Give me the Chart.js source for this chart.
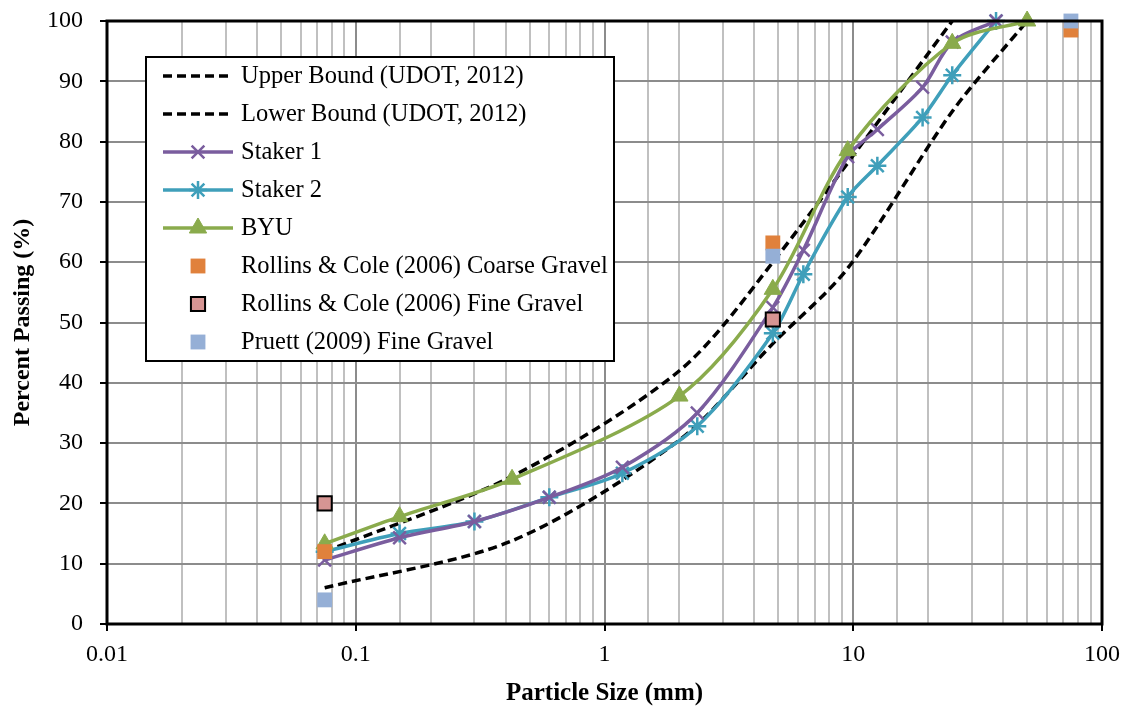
<!DOCTYPE html>
<html>
<head>
<meta charset="utf-8">
<script src="https://cdn.jsdelivr.net/npm/chart.js@4/dist/chart.umd.min.js"></script>
<style>
  html, body { margin: 0; padding: 0; background: #ffffff; }
</style>
</head>
<body>
<canvas id="gradChart" width="1125" height="709"></canvas>
<script>
// Sieve sizes (mm) and percent passing
const sieveStaker = [0.075, 0.15, 0.3, 0.6, 1.18, 2.36, 4.75, 6.3, 9.5, 12.5, 19, 25, 37.5];
const staker1 = [10.6, 14.3, 17, 21, 26, 35, 52.5, 62, 77.5, 82, 89, 96.5, 100];
const staker2 = [12, 15, 17, 21, 25, 32.8, 48.2, 58, 70.8, 76, 84, 91, 100];

const sieveByu = [0.075, 0.15, 0.425, 2, 4.75, 9.5, 25, 50];
const byu = [13.3, 17.8, 24, 37.8, 55.5, 78.5, 96.3, 100];

const sieveUpper = [0.075, 0.425, 2, 4.75, 25];
const upperBound = [12, 24.5, 42, 60, 100];
const sieveLower = [0.075, 0.425, 2, 4.75, 9.5, 25, 50];
const lowerBound = [6, 13.8, 30.5, 46.5, 59, 85, 100];

const sieveCoarse = [0.075, 4.75, 75];
const rollinsCoarse = [12, 63.2, 98.5];
const sieveFine = [0.075, 4.75];
const rollinsFine = [20, 50.5];
const sievePruett = [0.075, 4.75, 75];
const pruettFine = [4, 61, 100];

const xTickLabels = ['0.01', '0.1', '1', '10', '100'];

function pairs(xs, ys) {
    return xs.map((x, i) => ({ x: x, y: ys[i] }));
}

function isDecade(v) {
    const l = Math.log10(v);
    return Math.abs(l - Math.round(l)) < 1e-9;
}

const FONT = '"Liberation Serif", "Times New Roman", serif';

// legend drawn inside the plot, like the Excel original
const boxLegend = {
    id: 'boxLegend',
    beforeDatasetsDraw(chart) {
        const ctx = chart.ctx;
        const area = chart.chartArea;
        const left = area.left + 39;
        const top = area.top + 36;
        const w = 468, h = 304;
        ctx.save();
        ctx.fillStyle = '#ffffff';
        ctx.fillRect(left, top, w, h);
        ctx.strokeStyle = '#000000';
        ctx.lineWidth = 2;
        ctx.strokeRect(left, top, w, h);

        chart.data.datasets.forEach((ds, i) => {
            const y = top + 19 + i * 38;
            const x1 = left + 17, x2 = left + 87, xm = (x1 + x2) / 2;
            if (ds.showLine) {
                ctx.beginPath();
                ctx.setLineDash(ds.borderDash || []);
                ctx.strokeStyle = ds.borderColor;
                ctx.lineWidth = ds.borderWidth;
                ctx.moveTo(x1, y);
                ctx.lineTo(x2, y);
                ctx.stroke();
                ctx.setLineDash([]);
            }
            if (ds.pointRadius > 0) {
                ctx.fillStyle = ds.pointBackgroundColor;
                ctx.strokeStyle = ds.pointBorderColor;
                ctx.lineWidth = ds.pointBorderWidth;
                Chart.helpers.drawPoint(ctx, {
                    pointStyle: ds.pointStyle,
                    radius: ds.pointRadius,
                    rotation: 0,
                    borderWidth: ds.pointBorderWidth
                }, xm, y);
            }
            ctx.fillStyle = '#000000';
            ctx.font = '24.5px ' + FONT;
            ctx.textBaseline = 'middle';
            ctx.textAlign = 'left';
            ctx.fillText(ds.label, left + 95, y + 1);
        });
        ctx.restore();
    },
    afterDraw(chart) {
        const ctx = chart.ctx;
        const a = chart.chartArea;
        ctx.save();
        ctx.strokeStyle = '#000000';
        ctx.lineWidth = 3;
        ctx.strokeRect(a.left, a.top, a.right - a.left, a.bottom - a.top);
        ctx.restore();
    }
};

const ctx = document.getElementById('gradChart').getContext('2d');

new Chart(ctx, {
    type: 'scatter',
    data: {
        datasets: [
            {
                label: 'Upper Bound (UDOT, 2012)',
                data: pairs(sieveUpper, upperBound),
                showLine: true,
                borderColor: '#000000',
                borderWidth: 3.5,
                borderDash: [9, 5],
                pointRadius: 0,
                tension: 0.3,
                order: 6
            },
            {
                label: 'Lower Bound (UDOT, 2012)',
                data: pairs(sieveLower, lowerBound),
                showLine: true,
                borderColor: '#000000',
                borderWidth: 3.5,
                borderDash: [9, 5],
                pointRadius: 0,
                tension: 0.3,
                order: 6
            },
            {
                label: 'Staker 1',
                data: pairs(sieveStaker, staker1),
                showLine: true,
                borderColor: '#7a5d9e',
                borderWidth: 3.5,
                pointStyle: 'crossRot',
                pointRadius: 9,
                pointBorderWidth: 2.5,
                pointBorderColor: '#7a5d9e',
                pointBackgroundColor: '#7a5d9e',
                tension: 0.3,
                order: 4
            },
            {
                label: 'Staker 2',
                data: pairs(sieveStaker, staker2),
                showLine: true,
                borderColor: '#3f9fba',
                borderWidth: 3.5,
                pointStyle: 'star',
                pointRadius: 9,
                pointBorderWidth: 2.5,
                pointBorderColor: '#3f9fba',
                pointBackgroundColor: '#3f9fba',
                tension: 0.3,
                order: 5
            },
            {
                label: 'BYU',
                data: pairs(sieveByu, byu),
                showLine: true,
                borderColor: '#8aab4c',
                borderWidth: 3.5,
                pointStyle: 'triangle',
                pointRadius: 10,
                pointBorderWidth: 1,
                pointBorderColor: '#8aab4c',
                pointBackgroundColor: '#8aab4c',
                tension: 0.3,
                order: 3
            },
            {
                label: 'Rollins & Cole (2006) Coarse Gravel',
                data: pairs(sieveCoarse, rollinsCoarse),
                showLine: false,
                pointStyle: 'rect',
                pointRadius: 10.5,
                pointBorderWidth: 0,
                pointBorderColor: '#e0813c',
                pointBackgroundColor: '#e0813c',
                order: 2
            },
            {
                label: 'Rollins & Cole (2006) Fine Gravel',
                data: pairs(sieveFine, rollinsFine),
                showLine: false,
                pointStyle: 'rect',
                pointRadius: 10,
                pointBorderWidth: 2,
                pointBorderColor: '#000000',
                pointBackgroundColor: '#d69593',
                order: 1
            },
            {
                label: 'Pruett (2009) Fine Gravel',
                data: pairs(sievePruett, pruettFine),
                showLine: false,
                pointStyle: 'rect',
                pointRadius: 10.5,
                pointBorderWidth: 0,
                pointBorderColor: '#95afd6',
                pointBackgroundColor: '#95afd6',
                order: 0
            }
        ]
    },
    options: {
        responsive: false,
        animation: false,
        devicePixelRatio: 1,
        clip: false,
        layout: { padding: { top: 21, right: 23, left: 0, bottom: 0 } },
        scales: {
            x: {
                type: 'logarithmic',
                min: 0.01,
                max: 100,
                afterFit: scale => {
                    scale.height = 85;
                    scale.paddingLeft = 0;
                    scale.paddingRight = 0;
                },
                ticks: {
                    autoSkip: false,
                    maxRotation: 0,
                    color: '#000000',
                    padding: 9,
                    font: { family: FONT, size: 24 },
                    callback: function (v) {
                        if (!isDecade(v)) return '';
                        return xTickLabels[Math.round(Math.log10(v)) + 2];
                    }
                },
                grid: {
                    color: c => (c.tick && isDecade(c.tick.value)) ? '#8c8c8c' : '#c0c0c0',
                    lineWidth: 2,
                    tickLength: 7,
                    tickColor: c => (c.tick && isDecade(c.tick.value)) ? '#000000' : 'rgba(0,0,0,0)'
                },
                border: { display: false },
                title: {
                    display: true,
                    text: 'Particle Size (mm)',
                    color: '#000000',
                    font: { family: FONT, size: 25, weight: 'bold' },
                    padding: { top: 2, bottom: 0 }
                }
            },
            y: {
                min: 0,
                max: 100,
                afterFit: scale => {
                    scale.width = 107;
                    scale.paddingTop = 0;
                    scale.paddingBottom = 0;
                },
                ticks: {
                    stepSize: 10,
                    color: '#000000',
                    padding: 17,
                    font: { family: FONT, size: 24 }
                },
                grid: {
                    color: '#8c8c8c',
                    lineWidth: 2,
                    tickLength: 7,
                    tickColor: '#000000'
                },
                border: { display: false },
                title: {
                    display: true,
                    text: 'Percent Passing (%)',
                    color: '#000000',
                    font: { family: FONT, size: 24, weight: 'bold' },
                    padding: { top: 8, bottom: 6 }
                }
            }
        },
        plugins: {
            legend: { display: false },
            tooltip: { enabled: false }
        }
    },
    plugins: [boxLegend]
});
</script>
</body>
</html>
